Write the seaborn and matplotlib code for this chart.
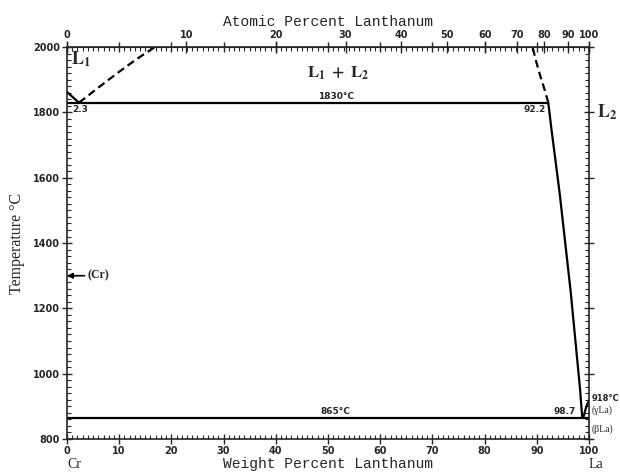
import matplotlib
matplotlib.use("Agg")
import matplotlib.pyplot as plt
import numpy as np
import pandas as pd
import seaborn as sns
from matplotlib.ticker import MultipleLocator, FixedLocator, NullLocator

# phase boundaries, weight percent La vs temperature (C)
cr_liq_wt = [0.0, 2.3]
cr_liq_t = [1863, 1830]
gap_left_wt = [2.3, 6.0, 9.6, 13.2, 16.8]
gap_left_t = [1830, 1876, 1920, 1962, 2000]
gap_right_wt = [92.2, 91.5, 90.7, 89.9, 89.2]
gap_right_t = [1830, 1870, 1910, 1955, 2000]
la_liq_wt = [92.2, 92.8, 93.6, 94.4, 95.1, 95.8, 96.5, 97.1, 97.7, 98.3, 98.7]
la_liq_t = [1830, 1750, 1650, 1550, 1450, 1350, 1250, 1150, 1050, 950, 865]
la_melt_wt = [98.9, 99.5, 100.0]
la_melt_t = [865, 900, 918]
monotectic_wt = [0.0, 92.2]
monotectic_t = [1830, 1830]
eutectic_wt = [0.0, 100.0]
eutectic_t = [865, 865]

at_ticks = [0, 10, 20, 30, 40, 50, 60, 70, 80, 90, 100]

M_LA = 138.905
M_CR = 51.996


def wt_to_at(w):
    w = np.asarray(w, dtype=float)
    nla = w / M_LA
    ncr = (100.0 - w) / M_CR
    return 100.0 * nla / np.maximum(nla + ncr, 1e-12)


def at_to_wt(a):
    a = np.asarray(a, dtype=float)
    mla = a * M_LA
    mcr = (100.0 - a) * M_CR
    return 100.0 * mla / np.maximum(mla + mcr, 1e-12)


sns.set_style("ticks")
plt.rcParams["font.family"] = ["DejaVu Sans"]
plt.rcParams["mathtext.fontset"] = "stix"
mono = "Liberation Mono"
serif = "Liberation Serif"

fig = plt.figure(figsize=(6.2, 4.72), dpi=100)
ax = fig.add_axes([0.108, 0.070, 0.842, 0.830])

lw = 1.6
curves = [
    (cr_liq_wt, cr_liq_t, "-"),
    (gap_left_wt, gap_left_t, "--"),
    (gap_right_wt, gap_right_t, "--"),
    (la_liq_wt, la_liq_t, "-"),
    (la_melt_wt, la_melt_t, "-"),
    (monotectic_wt, monotectic_t, "-"),
    (eutectic_wt, eutectic_t, "-"),
]
for xs, ys, ls in curves:
    df = pd.DataFrame({"wt": xs, "t": ys})
    line = sns.lineplot(data=df, x="wt", y="t", ax=ax, sort=False,
                        estimator=None, color="black", lw=lw)
    if ls == "--":
        line.lines[-1].set_dashes((3.5, 2))

ax.set_xlim(0, 100)
ax.set_ylim(800, 2000)
ax.xaxis.set_major_locator(MultipleLocator(10))
ax.xaxis.set_minor_locator(MultipleLocator(1))
ax.yaxis.set_major_locator(MultipleLocator(200))
ax.yaxis.set_minor_locator(MultipleLocator(20))
ax.tick_params(which="major", direction="inout", length=7, width=1,
               labelsize=7, pad=1.5, right=True)
ax.tick_params(axis="x", which="major", top=True, labeltop=False)
ax.tick_params(which="minor", direction="in", length=3, width=0.8,
               right=True, top=True)
for lab in ax.get_xticklabels() + ax.get_yticklabels():
    lab.set_fontweight("bold")
for sp in ax.spines.values():
    sp.set_linewidth(1.2)
    sp.set_visible(True)

sec = ax.secondary_xaxis("top", functions=(wt_to_at, at_to_wt))
sec.xaxis.set_major_locator(FixedLocator(at_ticks))
sec.xaxis.set_minor_locator(NullLocator())
sec.tick_params(which="major", direction="inout", length=8, width=1,
                labelsize=7, pad=1)
for lab in sec.get_xticklabels():
    lab.set_fontweight("bold")
sec.set_xlabel("Atomic Percent Lanthanum", family=mono, fontsize=10.5,
               labelpad=3)

ax.set_xlabel("Weight Percent Lanthanum", family=mono, fontsize=10.5,
              labelpad=1)
ax.set_ylabel("Temperature \u00b0C", family=serif, fontsize=11.5,
              labelpad=6)

# annotations
small = dict(fontsize=6.5, fontweight="bold")
ax.text(51.5, 1834, "1830\u00b0C", ha="center", va="bottom", **small)
ax.text(51.5, 869, "865\u00b0C", ha="center", va="bottom", **small)
ax.text(1.0, 1824, "2.3", ha="left", va="top", **small)
ax.text(91.8, 1824, "92.2", ha="right", va="top", **small)
ax.text(97.4, 869, "98.7", ha="right", va="bottom", **small)
ax.text(0.8, 1962, r"$\mathbf{L_1}$", fontsize=13, va="center")
ax.text(52, 1922, r"$\mathbf{L_1\ +\ L_2}$", fontsize=12,
        ha="center", va="center")
ax.text(101.6, 1800, r"$\mathbf{L_2}$", fontsize=13, va="center",
        clip_on=False)
ax.text(100.5, 925, "918\u00b0C", ha="left", va="center", clip_on=False,
        fontsize=6, fontweight="bold")
ax.text(100.5, 887, "(\u03b3La)", ha="left", va="center", clip_on=False,
        fontsize=7, family=serif)
ax.text(100.5, 831, "(\u03b2La)", ha="left", va="center", clip_on=False,
        fontsize=7, family=serif)
ax.annotate("(Cr)", xy=(0, 1300), xytext=(4.0, 1300), va="center",
            fontsize=8.5, fontweight="bold", family=serif,
            arrowprops=dict(arrowstyle="-|>", color="black", lw=1.2,
                            shrinkA=0, shrinkB=0, mutation_scale=8))
ax.text(0, -0.066, "Cr", transform=ax.get_xaxis_transform(), family=serif,
        fontsize=10, ha="left", va="center", clip_on=False)
ax.text(100, -0.066, "La", transform=ax.get_xaxis_transform(), family=serif,
        fontsize=10, ha="left", va="center", clip_on=False)

fig.savefig("out.png", dpi=100)
